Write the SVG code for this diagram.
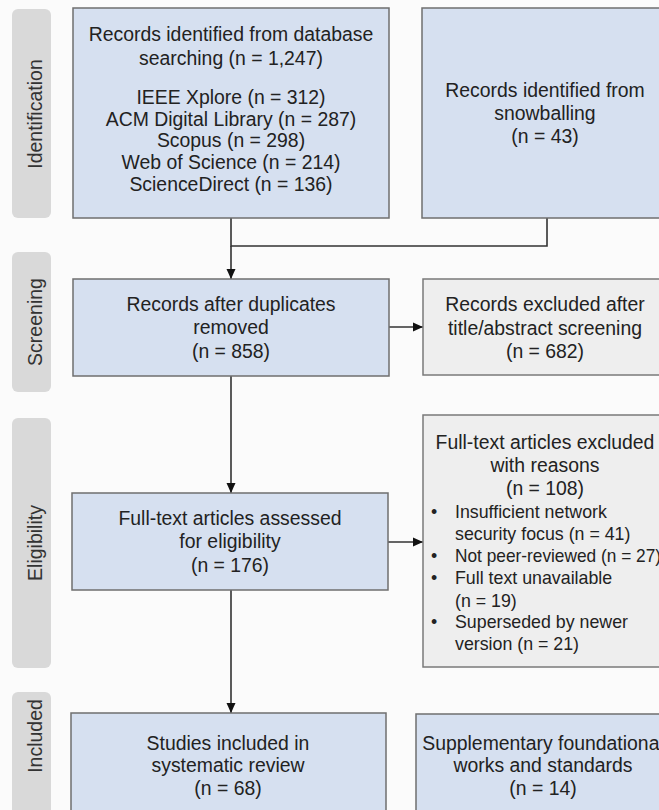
<svg xmlns="http://www.w3.org/2000/svg" width="659" height="810" viewBox="0 0 659 810">
<style>
.lbl{fill:#d9d9d9}
.lt{font-family:"Liberation Sans",Arial,sans-serif;font-size:19.5px;fill:#333;text-anchor:middle}
.blue{fill:#d6e0f0;stroke:#6f6f6f;stroke-width:1.5}
.grey{fill:#eeeeee;stroke:#7a7a7a;stroke-width:1.5}
.t{font-family:"Liberation Sans",Arial,sans-serif;font-size:19.4px;fill:#222;text-anchor:middle}
.tl{font-family:"Liberation Sans",Arial,sans-serif;font-size:17.8px;fill:#222}
.c{fill:none;stroke:#333;stroke-width:1.6}
</style>
<defs>
<marker id="ah" markerWidth="10" markerHeight="10" refX="10" refY="5" orient="auto" markerUnits="userSpaceOnUse">
<path d="M0,0.5 L10,5 L0,9.5 Z" fill="#111"/>
</marker>
</defs>
<rect width="659" height="810" fill="#fbfbfb"/>
<g id="label-identification"><rect class="lbl" x="12" y="9" width="39" height="209" rx="6"/><text class="lt" transform="translate(42,114) rotate(-90)">Identification</text></g>
<g id="label-screening"><rect class="lbl" x="12" y="252" width="39" height="140" rx="6"/><text class="lt" transform="translate(42,322) rotate(-90)">Screening</text></g>
<g id="label-eligibility"><rect class="lbl" x="12" y="418" width="39" height="250" rx="6"/><text class="lt" transform="translate(42,543) rotate(-90)">Eligibility</text></g>
<g id="label-included"><rect class="lbl" x="12" y="692" width="39" height="130" rx="6"/><text class="lt" transform="translate(42,736) rotate(-90)">Included</text></g>

<g id="connectors">
<path class="c" d="M231,218 V246 H547 V218"/>
<path class="c" d="M231,246 V279" marker-end="url(#ah)"/>
<path class="c" d="M389,327 H423" marker-end="url(#ah)"/>
<path class="c" d="M231,376 V493" marker-end="url(#ah)"/>
<path class="c" d="M388,542 H423" marker-end="url(#ah)"/>
<path class="c" d="M231,590 V713" marker-end="url(#ah)"/>
</g>

<g id="db-records">
<rect class="blue" x="73" y="8" width="316" height="210"/>
<text class="t" x="231" y="41">Records identified from database</text>
<text class="t" x="231" y="65">searching (n = 1,247)</text>
<text class="t" x="231" y="104">IEEE Xplore (n = 312)</text>
<text class="t" x="231" y="126">ACM Digital Library (n = 287)</text>
<text class="t" x="231" y="147">Scopus (n = 298)</text>
<text class="t" x="231" y="169">Web of Science (n = 214)</text>
<text class="t" x="231" y="191">ScienceDirect (n = 136)</text>
</g>
<g id="snowball-records">
<rect class="blue" x="422" y="8" width="246" height="210"/>
<text class="t" x="545" y="97">Records identified from</text>
<text class="t" x="545" y="120">snowballing</text>
<text class="t" x="545" y="143">(n = 43)</text>
</g>
<g id="after-duplicates">
<rect class="blue" x="73" y="279" width="316" height="97"/>
<text class="t" x="231" y="311">Records after duplicates</text>
<text class="t" x="231" y="334">removed</text>
<text class="t" x="231" y="358">(n = 858)</text>
</g>
<g id="excluded-screening">
<rect class="grey" x="423" y="279" width="245" height="96"/>
<text class="t" x="545" y="311">Records excluded after</text>
<text class="t" x="545" y="335">title/abstract screening</text>
<text class="t" x="545" y="358">(n = 682)</text>
</g>
<g id="fulltext-assessed">
<rect class="blue" x="72" y="493" width="316" height="97"/>
<text class="t" x="230" y="525">Full-text articles assessed</text>
<text class="t" x="230" y="548">for eligibility</text>
<text class="t" x="230" y="572">(n = 176)</text>
</g>
<g id="fulltext-excluded">
<rect class="grey" x="423" y="415" width="245" height="252"/>
<text class="t" x="545" y="449">Full-text articles excluded</text>
<text class="t" x="545" y="472">with reasons</text>
<text class="t" x="545" y="495">(n = 108)</text>
<text class="tl" x="431" y="518">•</text><text class="tl" x="455" y="518">Insufficient network</text>
<text class="tl" x="455" y="540">security focus (n = 41)</text>
<text class="tl" x="431" y="562">•</text><text class="tl" x="455" y="562" textLength="206" lengthAdjust="spacingAndGlyphs">Not peer-reviewed (n = 27)</text>
<text class="tl" x="431" y="584">•</text><text class="tl" x="455" y="584">Full text unavailable</text>
<text class="tl" x="455" y="607">(n = 19)</text>
<text class="tl" x="431" y="628">•</text><text class="tl" x="455" y="628">Superseded by newer</text>
<text class="tl" x="455" y="650">version (n = 21)</text>
</g>
<g id="studies-included">
<rect class="blue" x="71" y="713" width="315" height="110"/>
<text class="t" x="228" y="750">Studies included in</text>
<text class="t" x="228" y="772">systematic review</text>
<text class="t" x="228" y="795">(n = 68)</text>
</g>
<g id="supplementary">
<rect class="blue" x="416" y="714" width="254" height="110"/>
<text class="t" x="543" y="750">Supplementary foundational</text>
<text class="t" x="543" y="772">works and standards</text>
<text class="t" x="543" y="795">(n = 14)</text>
</g>
</svg>
